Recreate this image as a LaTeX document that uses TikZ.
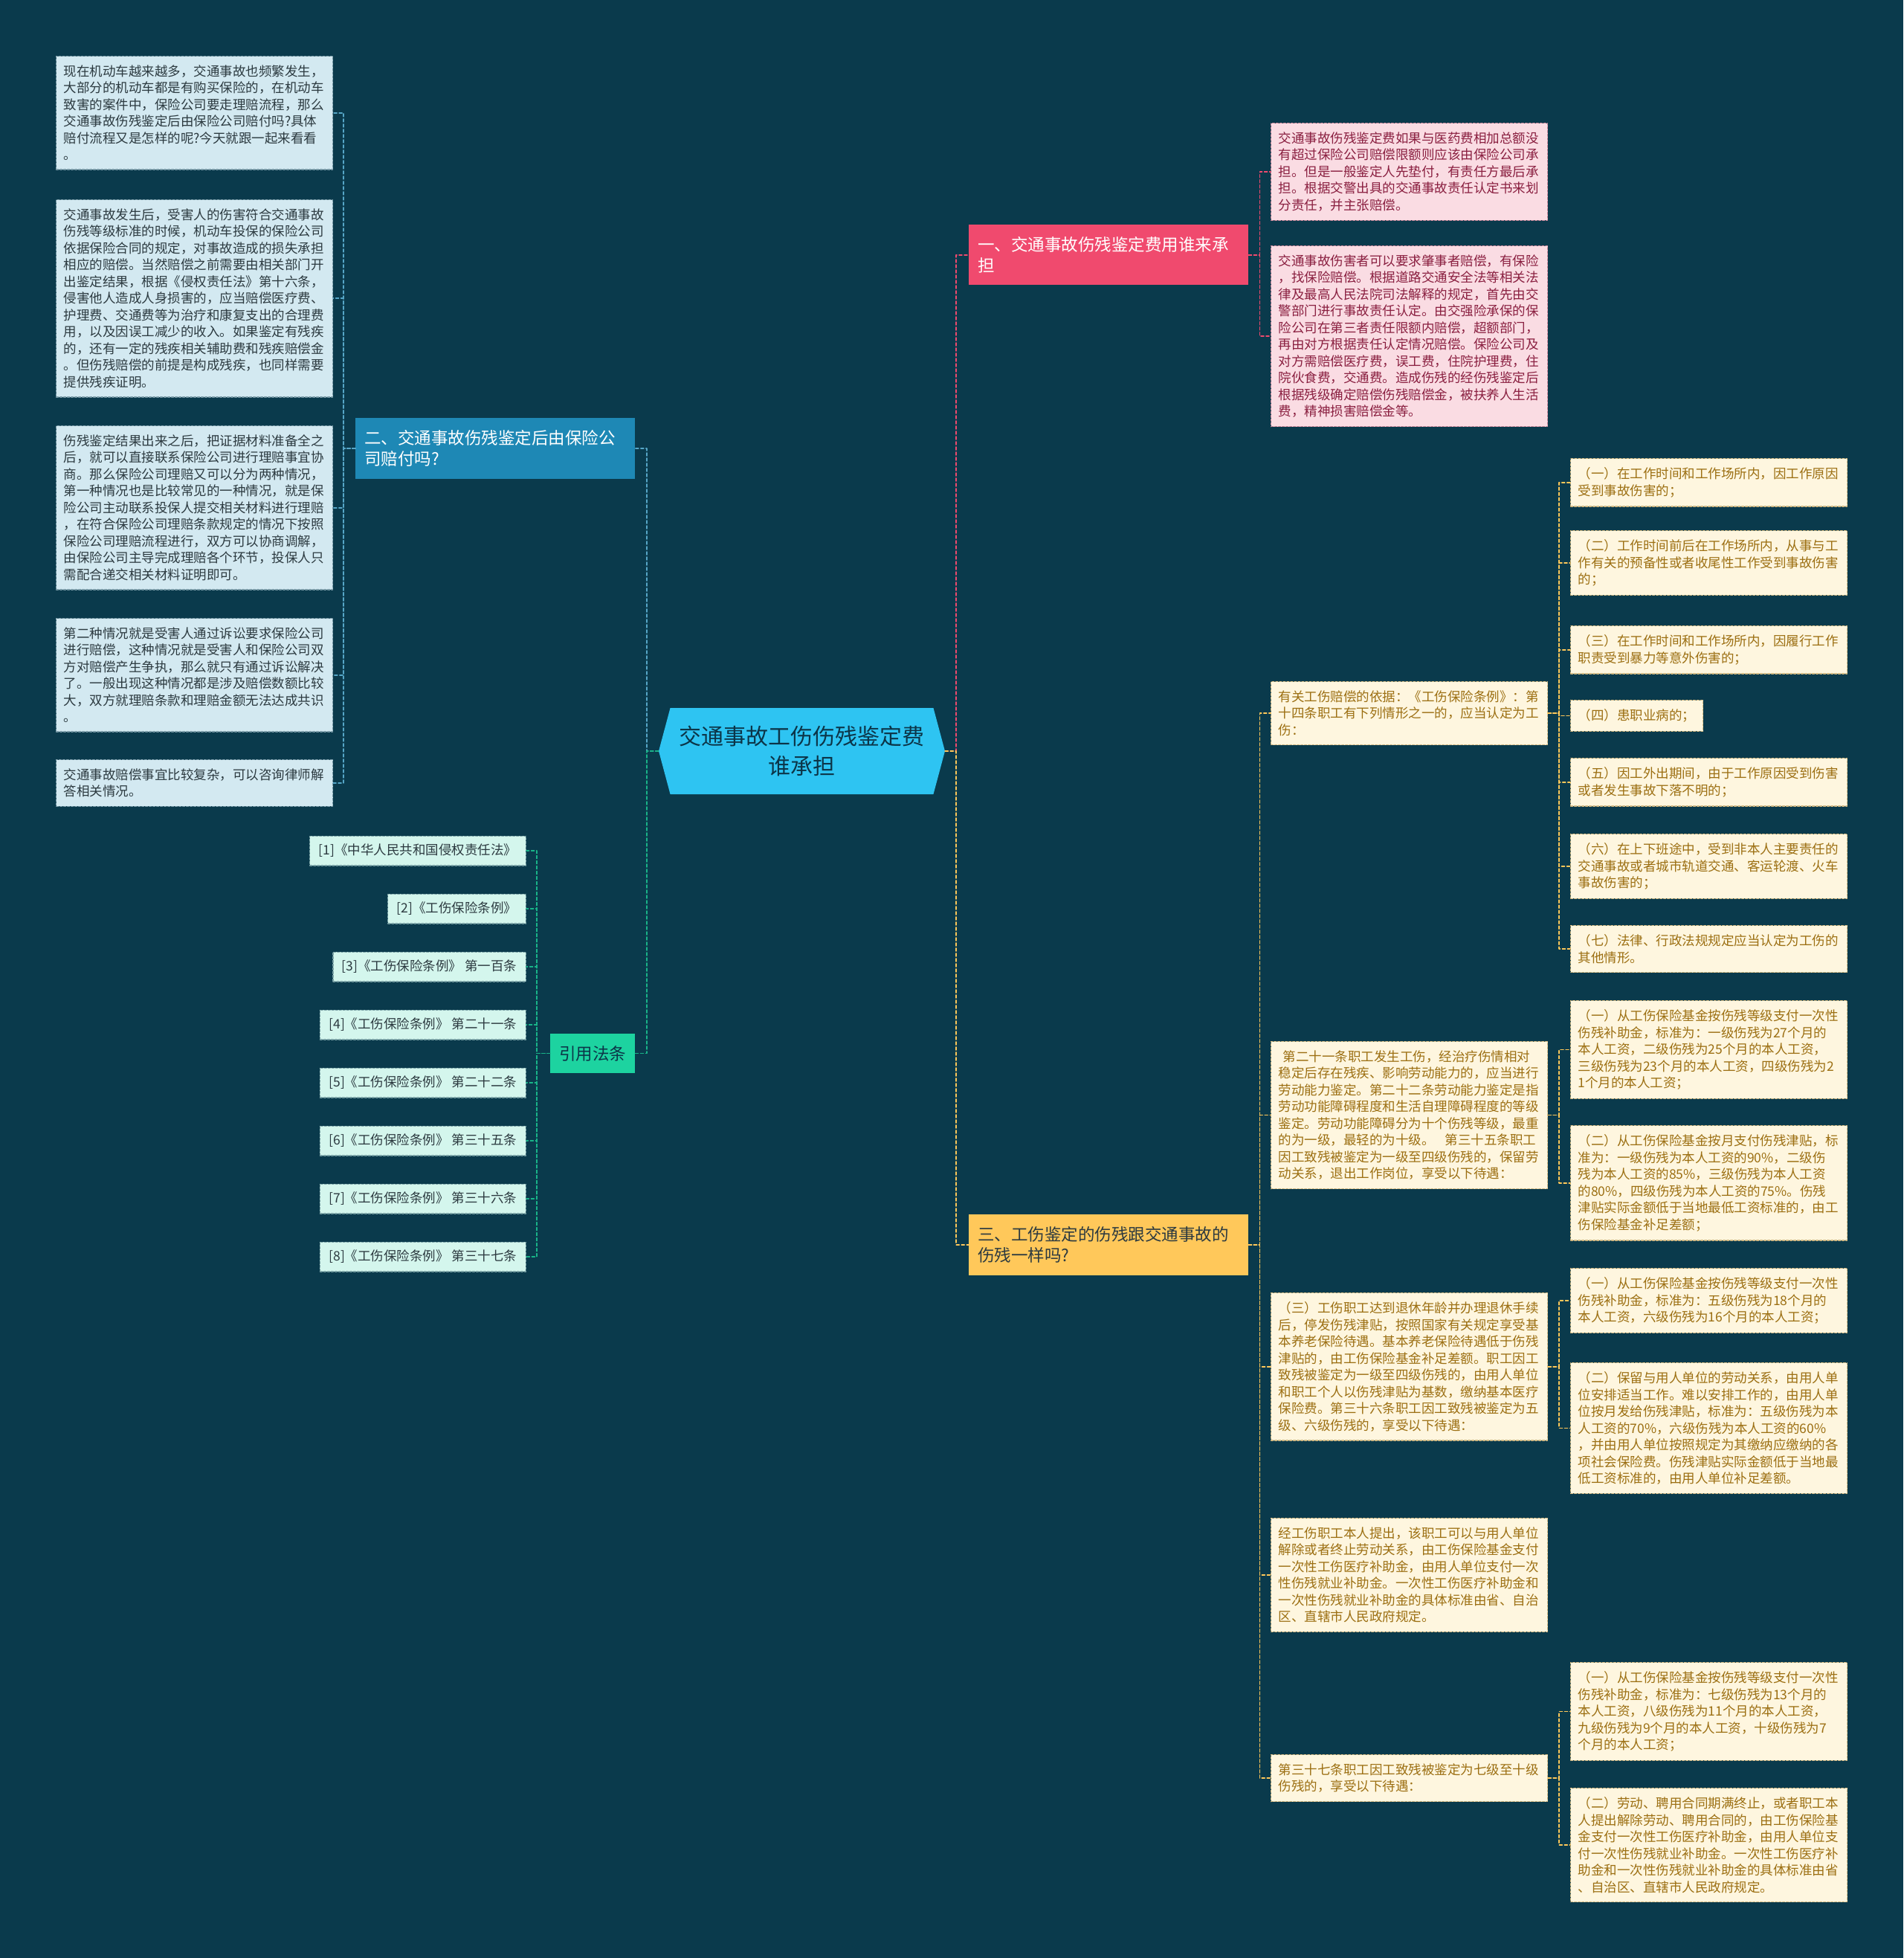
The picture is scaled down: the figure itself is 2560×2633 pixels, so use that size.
\documentclass[tikz,border=0pt]{standalone}
\usepackage{fontspec}
\setmainfont{Noto Sans CJK SC}
\usepackage{tikz}
\usetikzlibrary{shapes.symbols}
\definecolor{mapbg}{HTML}{0A3A4C}
\definecolor{rootcyan}{HTML}{2EC4F2}
\definecolor{rootink}{HTML}{0C3548}
\definecolor{qred}{HTML}{F04A6E}
\definecolor{qblue}{HTML}{1E88B5}
\definecolor{qgold}{HTML}{FFC85A}
\definecolor{qgreen}{HTML}{1DD3A0}
\definecolor{lightblue}{HTML}{D3E9F1}
\definecolor{lightmint}{HTML}{D4F6ED}
\definecolor{lightpink}{HTML}{FADCE3}
\definecolor{lightcream}{HTML}{FEF6DF}
\definecolor{darkink}{HTML}{2C3A40}
\definecolor{pinkink}{HTML}{8A1F40}
\definecolor{goldink}{HTML}{9C6F12}
\tikzset{
every picture/.style={line cap=round,line join=round},
root node/.style={
  signal, signal to=west and east, signal pointer angle=150,
  fill=rootcyan, text=rootink,
  minimum width=385pt, minimum height=116pt,
  inner sep=0pt, align=center,
  font=\fontsize{30}{40}\selectfont
},
branch box/.style={
  anchor=north west, inner xsep=12pt, inner ysep=16pt, align=left,
  font=\fontsize{22.5}{28.5}\selectfont
},
long branch/.style={branch box, text width=352pt},
note box/.style={
  anchor=north west, text width=352pt, inner xsep=10pt, inner ysep=12pt,
  align=left, line width=1.2pt, dash pattern=on 3pt off 2pt,
  font=\fontsize{17.5}{22.5}\selectfont
},
blue note/.style={note box, fill=lightblue, draw=lightblue!55!mapbg, text=darkink},
pink note/.style={note box, fill=lightpink, draw=lightpink!55!pinkink, text=pinkink},
cream note/.style={note box, fill=lightcream, draw=lightcream!55!goldink, text=goldink},
ref box/.style={
  anchor=east, inner xsep=12pt, inner ysep=11pt,
  fill=lightmint, draw=lightmint!55!mapbg, text=darkink,
  line width=1.2pt, dash pattern=on 3pt off 2pt,
  font=\fontsize{17.5}{22.5}\selectfont
},
map link/.style={line width=1.6pt, dash pattern=on 4pt off 3pt},
blue link/.style={map link, draw=qblue!75!white},
green link/.style={map link, draw=qgreen!85!black},
pink link/.style={map link, draw=qred},
gold link/.style={map link, draw=qgold}
}
\begin{document}
\begin{tikzpicture}[x=1pt,y=-1pt]
\fill[mapbg] (0,0) rectangle (2560,2633);
\useasboundingbox (0,0) rectangle (2560,2633);

% centre and main branches
\node[root node] (root) at (1078.5,1010) {交通事故工伤伤残鉴定费\\谁承担};
\node[long branch,fill=qred,text=white] (q1) at (1303,302) {一、交通事故伤残鉴定费用谁来承\\担};
\node[long branch,fill=qblue,text=white] (q2) at (478,562) {二、交通事故伤残鉴定后由保险公\\司赔付吗?};
\node[long branch,fill=qgold,text=darkink] (q3) at (1303,1633) {三、工伤鉴定的伤残跟交通事故的\\伤残一样吗?};
\node[branch box,fill=qgreen,text=rootink] (refs) at (740,1390) {引用法条};

% branch two: notes on the left
\node[blue note] (l1) at (75,75) {现在机动车越来越多，交通事故也频繁发生，\\大部分的机动车都是有购买保险的，在机动车\\致害的案件中，保险公司要走理赔流程，那么\\交通事故伤残鉴定后由保险公司赔付吗?具体\\赔付流程又是怎样的呢?今天就跟一起来看看\\。};
\node[blue note] (l2) at (75,268) {交通事故发生后，受害人的伤害符合交通事故\\伤残等级标准的时候，机动车投保的保险公司\\依据保险合同的规定，对事故造成的损失承担\\相应的赔偿。当然赔偿之前需要由相关部门开\\出鉴定结果，根据《侵权责任法》第十六条，\\侵害他人造成人身损害的，应当赔偿医疗费、\\护理费、交通费等为治疗和康复支出的合理费\\用，以及因误工减少的收入。如果鉴定有残疾\\的，还有一定的残疾相关辅助费和残疾赔偿金\\。但伤残赔偿的前提是构成残疾，也同样需要\\提供残疾证明。};
\node[blue note] (l3) at (75,572) {伤残鉴定结果出来之后，把证据材料准备全之\\后，就可以直接联系保险公司进行理赔事宜协\\商。那么保险公司理赔又可以分为两种情况，\\第一种情况也是比较常见的一种情况，就是保\\险公司主动联系投保人提交相关材料进行理赔\\，在符合保险公司理赔条款规定的情况下按照\\保险公司理赔流程进行，双方可以协商调解，\\由保险公司主导完成理赔各个环节，投保人只\\需配合递交相关材料证明即可。};
\node[blue note] (l4) at (75,831) {第二种情况就是受害人通过诉讼要求保险公司\\进行赔偿，这种情况就是受害人和保险公司双\\方对赔偿产生争执，那么就只有通过诉讼解决\\了。一般出现这种情况都是涉及赔偿数额比较\\大，双方就理赔条款和理赔金额无法达成共识\\。};
\node[blue note] (l5) at (75,1021) {交通事故赔偿事宜比较复杂，可以咨询律师解\\答相关情况。};

% cited articles
\node[ref box] (r1) at (708,1144) {[1]《中华人民共和国侵权责任法》};
\node[ref box] (r2) at (708,1222) {[2]《工伤保险条例》};
\node[ref box] (r3) at (708,1300) {[3]《工伤保险条例》 第一百条};
\node[ref box] (r4) at (708,1378) {[4]《工伤保险条例》 第二十一条};
\node[ref box] (r5) at (708,1456) {[5]《工伤保险条例》 第二十二条};
\node[ref box] (r6) at (708,1534) {[6]《工伤保险条例》 第三十五条};
\node[ref box] (r7) at (708,1612) {[7]《工伤保险条例》 第三十六条};
\node[ref box] (r8) at (708,1690) {[8]《工伤保险条例》 第三十七条};

% branch one
\node[pink note] (p1) at (1709,165) {交通事故伤残鉴定费如果与医药费相加总额没\\有超过保险公司赔偿限额则应该由保险公司承\\担。但是一般鉴定人先垫付，有责任方最后承\\担。根据交警出具的交通事故责任认定书来划\\分责任，并主张赔偿。};
\node[pink note] (p2) at (1709,330) {交通事故伤害者可以要求肇事者赔偿，有保险\\，找保险赔偿。根据道路交通安全法等相关法\\律及最高人民法院司法解释的规定，首先由交\\警部门进行事故责任认定。由交强险承保的保\\险公司在第三者责任限额内赔偿，超额部门，\\再由对方根据责任认定情况赔偿。保险公司及\\对方需赔偿医疗费，误工费，住院护理费，住\\院伙食费，交通费。造成伤残的经伤残鉴定后\\根据残级确定赔偿伤残赔偿金，被扶养人生活\\费，精神损害赔偿金等。};

% branch three
\node[cream note] (y1) at (1709,916) {有关工伤赔偿的依据：《工伤保险条例》：第\\十四条职工有下列情形之一的，应当认定为工\\伤：};
\node[cream note] (y2) at (1709,1400) {\hspace*{0.35em}第二十一条职工发生工伤，经治疗伤情相对\\稳定后存在残疾、影响劳动能力的，应当进行\\劳动能力鉴定。第二十二条劳动能力鉴定是指\\劳动功能障碍程度和生活自理障碍程度的等级\\鉴定。劳动功能障碍分为十个伤残等级，最重\\的为一级，最轻的为十级。\kern0.8em 第三十五条职工\\因工致残被鉴定为一级至四级伤残的，保留劳\\动关系，退出工作岗位，享受以下待遇：};
\node[cream note] (y3) at (1709,1738) {（三）工伤职工达到退休年龄并办理退休手续\\后，停发伤残津贴，按照国家有关规定享受基\\本养老保险待遇。基本养老保险待遇低于伤残\\津贴的，由工伤保险基金补足差额。职工因工\\致残被鉴定为一级至四级伤残的，由用人单位\\和职工个人以伤残津贴为基数，缴纳基本医疗\\保险费。第三十六条职工因工致残被鉴定为五\\级、六级伤残的，享受以下待遇：};
\node[cream note] (y4) at (1709,2041) {经工伤职工本人提出，该职工可以与用人单位\\解除或者终止劳动关系，由工伤保险基金支付\\一次性工伤医疗补助金，由用人单位支付一次\\性伤残就业补助金。一次性工伤医疗补助金和\\一次性伤残就业补助金的具体标准由省、自治\\区、直辖市人民政府规定。};
\node[cream note] (y5) at (1709,2359) {第三十七条职工因工致残被鉴定为七级至十级\\伤残的，享受以下待遇：};

% article 14 cases
\node[cream note] (c1) at (2112,616) {（一）在工作时间和工作场所内，因工作原因\\受到事故伤害的；};
\node[cream note] (c2) at (2112,713) {（二）工作时间前后在工作场所内，从事与工\\作有关的预备性或者收尾性工作受到事故伤害\\的；};
\node[cream note] (c3) at (2112,841) {（三）在工作时间和工作场所内，因履行工作\\职责受到暴力等意外伤害的；};
\node[cream note,text width=158pt] (c4) at (2112,941) {（四）患职业病的；};
\node[cream note] (c5) at (2112,1019) {（五）因工外出期间，由于工作原因受到伤害\\或者发生事故下落不明的；};
\node[cream note] (c6) at (2112,1121) {（六）在上下班途中，受到非本人主要责任的\\交通事故或者城市轨道交通、客运轮渡、火车\\事故伤害的；};
\node[cream note] (c7) at (2112,1244) {（七）法律、行政法规规定应当认定为工伤的\\其他情形。};

% grade one to four
\node[cream note] (a1) at (2112,1345) {（一）从工伤保险基金按伤残等级支付一次性\\伤残补助金，标准为：一级伤残为27个月的\\本人工资，二级伤残为25个月的本人工资，\\三级伤残为23个月的本人工资，四级伤残为2\\1个月的本人工资；};
\node[cream note] (a2) at (2112,1513) {（二）从工伤保险基金按月支付伤残津贴，标\\准为：一级伤残为本人工资的90\%，二级伤\\残为本人工资的85\%，三级伤残为本人工资\\的80\%，四级伤残为本人工资的75\%。伤残\\津贴实际金额低于当地最低工资标准的，由工\\伤保险基金补足差额；};

% grade five and six
\node[cream note] (b1) at (2112,1705) {（一）从工伤保险基金按伤残等级支付一次性\\伤残补助金，标准为：五级伤残为18个月的\\本人工资，六级伤残为16个月的本人工资；};
\node[cream note] (b2) at (2112,1832) {（二）保留与用人单位的劳动关系，由用人单\\位安排适当工作。难以安排工作的，由用人单\\位按月发给伤残津贴，标准为：五级伤残为本\\人工资的70\%，六级伤残为本人工资的60\%\\，并由用人单位按照规定为其缴纳应缴纳的各\\项社会保险费。伤残津贴实际金额低于当地最\\低工资标准的，由用人单位补足差额。};

% grade seven to ten
\node[cream note] (d1) at (2112,2235) {（一）从工伤保险基金按伤残等级支付一次性\\伤残补助金，标准为：七级伤残为13个月的\\本人工资，八级伤残为11个月的本人工资，\\九级伤残为9个月的本人工资，十级伤残为7\\个月的本人工资；};
\node[cream note] (d2) at (2112,2404) {（二）劳动、聘用合同期满终止，或者职工本\\人提出解除劳动、聘用合同的，由工伤保险基\\金支付一次性工伤医疗补助金，由用人单位支\\付一次性伤残就业补助金。一次性工伤医疗补\\助金和一次性伤残就业补助金的具体标准由省\\、自治区、直辖市人民政府规定。};

% links from the centre
\draw[blue link] (root.west) -- ++(-16,0) |- (q2.east);
\draw[green link] (root.west) -- ++(-16,0) |- (refs.east);
\draw[pink link] (root.east) -- ++(15,0) |- (q1.west);
\draw[gold link] (root.east) -- ++(15,0) |- (q3.west);

% links of branch two and the articles
\draw[blue link] (q2.west) -- ++(-16,0) |- (l1.east);
\draw[blue link] (q2.west) -- ++(-16,0) |- (l2.east);
\draw[blue link] (q2.west) -- ++(-16,0) |- (l3.east);
\draw[blue link] (q2.west) -- ++(-16,0) |- (l4.east);
\draw[blue link] (q2.west) -- ++(-16,0) |- (l5.east);
\draw[green link] (refs.west) -- ++(-18,0) |- (r1.east);
\draw[green link] (refs.west) -- ++(-18,0) |- (r2.east);
\draw[green link] (refs.west) -- ++(-18,0) |- (r3.east);
\draw[green link] (refs.west) -- ++(-18,0) |- (r4.east);
\draw[green link] (refs.west) -- ++(-18,0) |- (r5.east);
\draw[green link] (refs.west) -- ++(-18,0) |- (r6.east);
\draw[green link] (refs.west) -- ++(-18,0) |- (r7.east);
\draw[green link] (refs.west) -- ++(-18,0) |- (r8.east);

% links of branch one
\draw[pink link] (q1.east) -- ++(15,0) |- (p1.west);
\draw[pink link] (q1.east) -- ++(15,0) |- (p2.west);

% links of branch three
\draw[gold link] (q3.east) -- ++(15,0) |- (y1.west);
\draw[gold link] (q3.east) -- ++(15,0) |- (y2.west);
\draw[gold link] (q3.east) -- ++(15,0) |- (y3.west);
\draw[gold link] (q3.east) -- ++(15,0) |- (y4.west);
\draw[gold link] (q3.east) -- ++(15,0) |- (y5.west);
\draw[gold link] (y1.east) -- ++(15,0) |- (c1.west);
\draw[gold link] (y1.east) -- ++(15,0) |- (c2.west);
\draw[gold link] (y1.east) -- ++(15,0) |- (c3.west);
\draw[gold link] (y1.east) -- ++(15,0) |- (c4.west);
\draw[gold link] (y1.east) -- ++(15,0) |- (c5.west);
\draw[gold link] (y1.east) -- ++(15,0) |- (c6.west);
\draw[gold link] (y1.east) -- ++(15,0) |- (c7.west);
\draw[gold link] (y2.east) -- ++(15,0) |- (a1.west);
\draw[gold link] (y2.east) -- ++(15,0) |- (a2.west);
\draw[gold link] (y3.east) -- ++(15,0) |- (b1.west);
\draw[gold link] (y3.east) -- ++(15,0) |- (b2.west);
\draw[gold link] (y5.east) -- ++(15,0) |- (d1.west);
\draw[gold link] (y5.east) -- ++(15,0) |- (d2.west);
\end{tikzpicture}
\end{document}
